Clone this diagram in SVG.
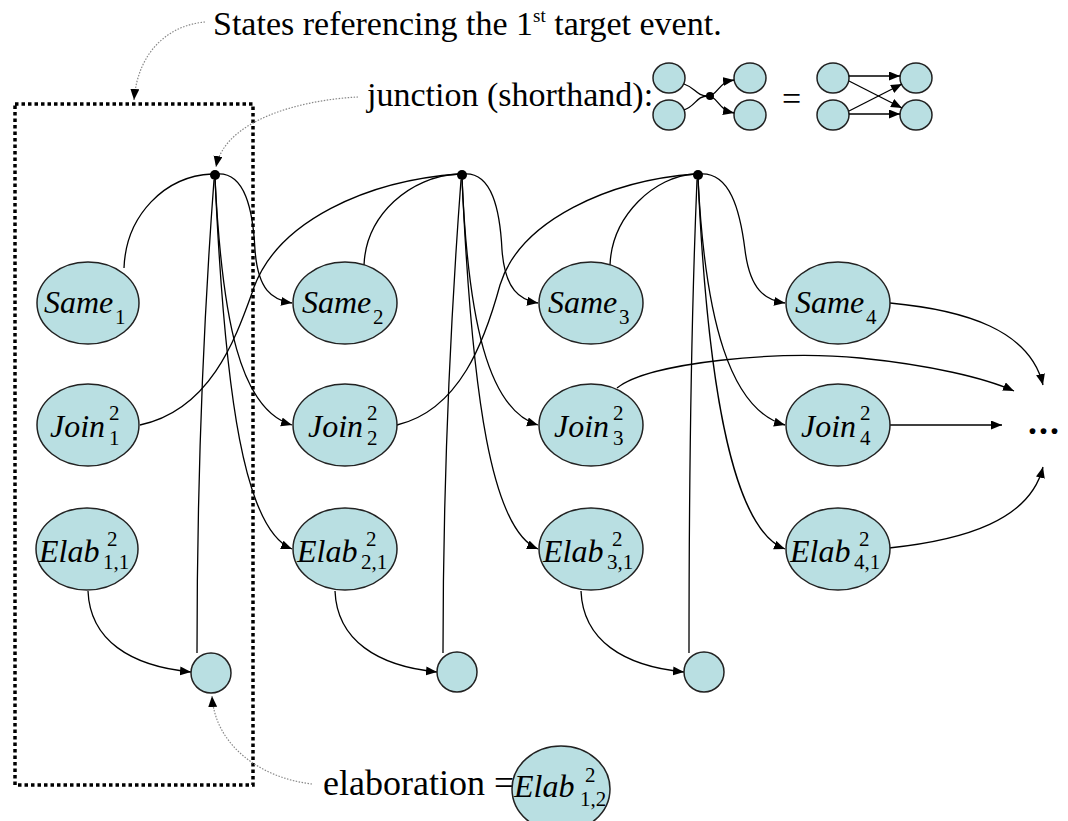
<svg xmlns="http://www.w3.org/2000/svg" width="1068" height="821" viewBox="0 0 1068 821">
<style>
.node{fill:#b9dfe2;stroke:#222;stroke-width:1.5}
.jn{fill:#000}
.lbl{font-family:'Liberation Serif','Times New Roman',Times,serif;fill:#000}
.it{font-style:italic;font-size:32px}
.sm{font-size:21px}
.ann{font-family:'Liberation Serif','Times New Roman',Times,serif;font-size:34px;fill:#000}
.c{fill:none;stroke:#000;stroke-width:1.3}
.ca{fill:none;stroke:#000;stroke-width:1.3;marker-end:url(#ah)}
.g{fill:none;stroke:#888;stroke-width:1.2;stroke-dasharray:1.5 1.5;marker-end:url(#ah)}
.box{fill:none;stroke:#000;stroke-width:3.5;stroke-dasharray:3.5 3}
</style>
<defs>
<marker id="ah" markerUnits="userSpaceOnUse" markerWidth="12" markerHeight="10" refX="11" refY="4.5" orient="auto">
<path d="M0,0 L11,4.5 L0,9 z" fill="#000"/>
</marker>
</defs>
<rect width="1068" height="821" fill="#fff"/>

<rect id="frame" class="box" x="15" y="104" width="238" height="681"/>

<g id="annotations">
<text class="ann" x="213" y="35">States referencing the 1<tspan font-size="19" dy="-13">st</tspan><tspan dy="13"> target event.</tspan></text>
<text class="ann" x="367" y="106">junction (shorthand):</text>
<text class="ann" x="323" y="795" style="font-size:36px">elaboration =</text>
<text class="ann" x="1028" y="434" style="font-size:36px;font-weight:bold;letter-spacing:2px">...</text>
</g>

<g id="legend">
<ellipse class="node" cx="669" cy="78" rx="16" ry="15"/>
<ellipse class="node" cx="669" cy="115" rx="16" ry="15"/>
<ellipse class="node" cx="750" cy="78" rx="16" ry="15"/>
<ellipse class="node" cx="750" cy="115" rx="16" ry="15"/>
<circle class="jn" cx="710" cy="96" r="4"/>
<path class="c" d="M684,84 C696,88 696,96 708,96"/>
<path class="c" d="M684,110 C696,106 696,96 708,96"/>
<path class="ca" d="M712,95 C720,90 720,82 734,80"/>
<path class="ca" d="M712,97 C720,102 720,110 734,113"/>
<text class="ann" x="782" y="110">=</text>
<ellipse class="node" cx="833" cy="78" rx="16" ry="15"/>
<ellipse class="node" cx="833" cy="115" rx="16" ry="15"/>
<ellipse class="node" cx="916" cy="78" rx="16" ry="15"/>
<ellipse class="node" cx="916" cy="115" rx="16" ry="15"/>
<path class="ca" d="M849,76 L900,76"/>
<path class="ca" d="M849,114 L900,114"/>
<path class="ca" d="M849,81 L902,108"/>
<path class="ca" d="M849,111 L902,84"/>
</g>

<g id="connectors">
<path class="g" d="M205,22 C170,25 138,50 134,100"/>
<path class="g" d="M358,97 C300,100 225,120 216,167"/>
<path class="g" d="M312,784 C260,778 215,745 212,696"/>

<path class="c" d="M124,268 C126,215 165,176 212,174"/>
<path class="c" d="M197,653 C197,450 205,300 214,180"/>
<path class="ca" d="M217,174 C245,172 253,210 255,250 C258,290 272,300 292,303"/>
<path class="ca" d="M215,178 C222,320 240,410 292,425"/>
<path class="ca" d="M215,178 C225,400 245,530 292,549"/>

<path class="c" d="M140,425 C210,410 235,340 252,293 C275,220 370,180 460,174"/>
<path class="c" d="M364,265 C366,215 410,176 459,174"/>
<path class="c" d="M443,653 C443,450 452,300 461,180"/>
<path class="ca" d="M464,174 C492,172 500,210 502,250 C505,290 520,300 538,303"/>
<path class="ca" d="M462,178 C468,320 488,410 538,425"/>
<path class="ca" d="M462,178 C472,400 492,530 538,549"/>

<path class="c" d="M397,425 C460,410 485,340 500,285 C520,220 610,180 696,174"/>
<path class="c" d="M610,265 C612,215 655,176 695,174"/>
<path class="c" d="M689,653 C689,450 692,300 697,180"/>
<path class="ca" d="M700,174 C730,172 740,210 745,250 C750,290 765,300 785,303"/>
<path class="ca" d="M698,178 C705,320 730,410 785,425"/>
<path class="ca" d="M698,178 C708,400 735,530 785,549"/>

<path class="ca" d="M88,591 C90,640 130,666 191,672"/>
<path class="ca" d="M335,591 C337,640 377,666 437,672"/>
<path class="ca" d="M581,591 C583,640 623,666 684,672"/>

<path class="ca" d="M617,388 C650,362 780,350 860,358 C930,365 985,378 1014,391"/>
<path class="ca" d="M890,303 C965,310 1030,330 1043,385"/>
<path class="ca" d="M889,425 L1002,425"/>
<path class="ca" d="M889,548 C965,540 1030,520 1043,467"/>
</g>

<g id="J1"><circle class="jn" cx="215" cy="175" r="5"/></g>
<g id="J2"><circle class="jn" cx="462" cy="175" r="5"/></g>
<g id="J3"><circle class="jn" cx="698" cy="175" r="5"/></g>

<g id="Same1"><ellipse class="node" cx="88" cy="303" rx="51" ry="41"/>
<text class="lbl it" x="44" y="313">Same</text><text class="lbl sm" x="115" y="324">1</text></g>
<g id="Join1"><ellipse class="node" cx="88" cy="425" rx="51" ry="41"/>
<text class="lbl it" x="50" y="437">Join</text><text class="lbl sm" x="109" y="420">2</text><text class="lbl sm" x="109" y="445">1</text></g>
<g id="Elab11"><ellipse class="node" cx="87" cy="549" rx="51" ry="41"/>
<text class="lbl it" x="39" y="562">Elab</text><text class="lbl sm" x="107" y="546">2</text><text class="lbl sm" x="103" y="569">1,1</text></g>
<g id="C1"><circle class="node" cx="211" cy="673" r="20"/></g>

<g id="Same2"><ellipse class="node" cx="345" cy="303" rx="52" ry="41"/>
<text class="lbl it" x="302" y="313">Same</text><text class="lbl sm" x="373" y="324">2</text></g>
<g id="Join2"><ellipse class="node" cx="345" cy="425" rx="52" ry="41"/>
<text class="lbl it" x="308" y="437">Join</text><text class="lbl sm" x="367" y="420">2</text><text class="lbl sm" x="367" y="445">2</text></g>
<g id="Elab21"><ellipse class="node" cx="345" cy="549" rx="52" ry="41"/>
<text class="lbl it" x="297" y="562">Elab</text><text class="lbl sm" x="366" y="546">2</text><text class="lbl sm" x="361" y="569">2,1</text></g>
<g id="C2"><circle class="node" cx="457" cy="672" r="20"/></g>

<g id="Same3"><ellipse class="node" cx="591" cy="303" rx="52" ry="41"/>
<text class="lbl it" x="548" y="313">Same</text><text class="lbl sm" x="619" y="324">3</text></g>
<g id="Join3"><ellipse class="node" cx="591" cy="425" rx="52" ry="41"/>
<text class="lbl it" x="554" y="437">Join</text><text class="lbl sm" x="613" y="420">2</text><text class="lbl sm" x="613" y="445">3</text></g>
<g id="Elab31"><ellipse class="node" cx="591" cy="549" rx="52" ry="41"/>
<text class="lbl it" x="543" y="562">Elab</text><text class="lbl sm" x="612" y="546">2</text><text class="lbl sm" x="607" y="569">3,1</text></g>
<g id="C3"><circle class="node" cx="704" cy="672" r="20"/></g>

<g id="Same4"><ellipse class="node" cx="838" cy="303" rx="52" ry="41"/>
<text class="lbl it" x="795" y="313">Same</text><text class="lbl sm" x="866" y="324">4</text></g>
<g id="Join4"><ellipse class="node" cx="838" cy="425" rx="52" ry="41"/>
<text class="lbl it" x="801" y="437">Join</text><text class="lbl sm" x="860" y="420">2</text><text class="lbl sm" x="860" y="445">4</text></g>
<g id="Elab41"><ellipse class="node" cx="838" cy="549" rx="52" ry="41"/>
<text class="lbl it" x="790" y="562">Elab</text><text class="lbl sm" x="859" y="546">2</text><text class="lbl sm" x="854" y="569">4,1</text></g>

<g id="Elab12"><ellipse class="node" cx="561" cy="789" rx="49" ry="43"/>
<text class="lbl it" x="514" y="797">Elab</text><text class="lbl sm" x="585" y="782">2</text><text class="lbl sm" x="580" y="806">1,2</text></g>
</svg>
